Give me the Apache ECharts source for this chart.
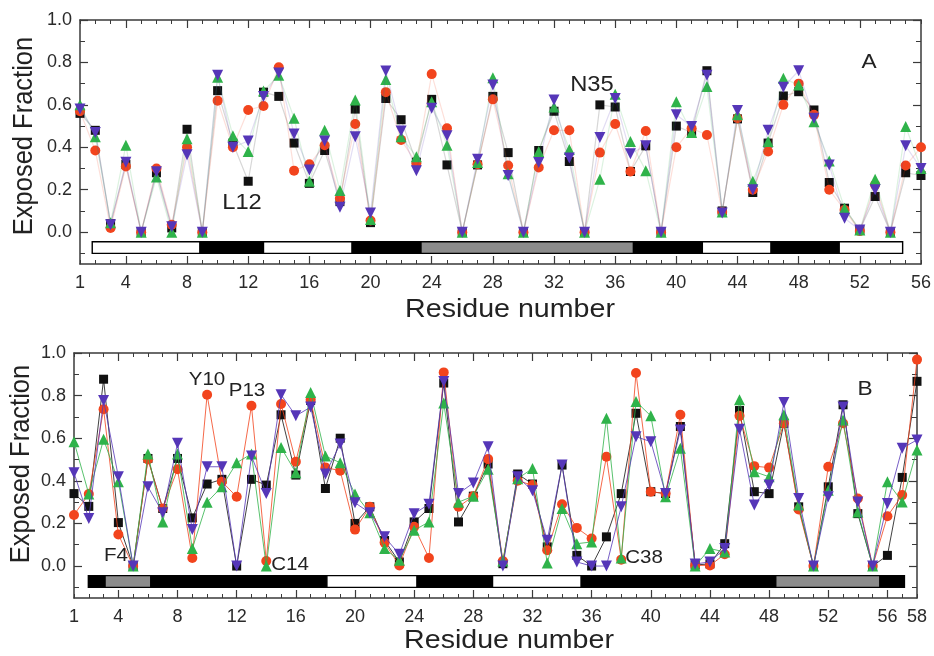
<!DOCTYPE html>
<html>
<head>
<meta charset="utf-8">
<script src="https://cdn.jsdelivr.net/npm/echarts@6/dist/echarts.min.js"></script>
<style>
  html, body { margin: 0; padding: 0; background: #fff; }
  #chart { width: 934px; height: 656px; }
</style>
</head>
<body>
<div id="chart"></div>
<script>
// panel A, residues 1..56
const blackA = [0.56, 0.48, 0.04, 0.32, 0, 0.28, 0.02, 0.485, 0, 0.667, 0.42, 0.24, 0.66, 0.64, 0.42, 0.23, 0.385, 0.144, 0.58, 0.045,
  0.63, 0.53, 0.33, 0.626, 0.317, 0, 0.317, 0.64, 0.375, 0, 0.385, 0.57, 0.333, 0, 0.60, 0.59, 0.286, 0.407, 0, 0.50,
  0.47, 0.761, 0.10, 0.534, 0.187, 0.42, 0.642, 0.662, 0.576, 0.234, 0.113, 0.01, 0.168, 0, 0.28, 0.267];
const redA = [0.57, 0.385, 0.02, 0.31, 0, 0.30, 0.035, 0.40, 0, 0.62, 0.40, 0.576, 0.595, 0.777, 0.29, 0.32, 0.41, 0.16, 0.51, 0.055,
  0.66, 0.435, 0.325, 0.745, 0.49, 0, 0.32, 0.626, 0.314, 0, 0.305, 0.48, 0.48, 0, 0.375, 0.51, 0.286, 0.477, 0, 0.40,
  0.49, 0.458, 0.095, 0.537, 0.20, 0.38, 0.60, 0.70, 0.553, 0.20, 0.105, 0.005, 0.223, 0, 0.314, 0.40];
const greenA = [0.60, 0.45, 0.045, 0.41, 0, 0.26, 0.0, 0.44, 0, 0.73, 0.454, 0.38, 0.665, 0.74, 0.537, 0.24, 0.48, 0.196, 0.623, 0.06,
  0.72, 0.45, 0.356, 0.615, 0.41, 0, 0.328, 0.728, 0.275, 0, 0.38, 0.59, 0.39, 0, 0.25, 0.65, 0.427, 0.29, 0, 0.615,
  0.47, 0.686, 0.095, 0.553, 0.24, 0.427, 0.725, 0.694, 0.52, 0.336, 0.113, 0.01, 0.25, 0, 0.498, 0.30];
const purpleA = [0.58, 0.47, 0.035, 0.33, 0, 0.285, 0.025, 0.365, 0, 0.74, 0.40, 0.43, 0.64, 0.75, 0.463, 0.293, 0.43, 0.118, 0.45, 0.09,
  0.76, 0.477, 0.29, 0.584, 0.454, 0, 0.344, 0.694, 0.267, 0, 0.328, 0.623, 0.35, 0, 0.446, 0.63, 0.37, 0.407, 0, 0.553,
  0.498, 0.74, 0.09, 0.573, 0.20, 0.48, 0.683, 0.761, 0.537, 0.317, 0.066, 0.01, 0.20, 0, 0.407, 0.30];

// panel B, residues 1..58
const blackB = [0.34, 0.28, 0.877, 0.204, 0, 0.505, 0.27, 0.505, 0.226, 0.385, 0.407, 0, 0.407, 0.38, 0.71, 0.427, 0.777, 0.364, 0.60, 0.20,
  0.278, 0.12, 0.019, 0.207, 0.27, 0.859, 0.207, 0.328, 0.479, 0.011, 0.432, 0.385, 0.09, 0.474, 0.05, 0, 0.137, 0.34, 0.717, 0.349,
  0.34, 0.655, 0.005, 0.01, 0.105, 0.73, 0.349, 0.34, 0.67, 0.278, 0, 0.372, 0.757, 0.246, 0, 0.05, 0.416, 0.867];
const redB = [0.24, 0.338, 0.736, 0.148, 0, 0.50, 0.27, 0.454, 0.038, 0.804, 0.396, 0.325, 0.752, 0.024, 0.761, 0.49, 0.78, 0.463, 0.447, 0.171,
  0.278, 0.11, 0.003, 0.184, 0.038, 0.909, 0.278, 0.328, 0.502, 0.024, 0.40, 0.38, 0.074, 0.29, 0.179, 0.129, 0.513, 0.03, 0.906, 0.349,
  0.34, 0.71, 0.003, 0.003, 0.055, 0.705, 0.469, 0.462, 0.67, 0.265, 0, 0.466, 0.67, 0.317, 0, 0.234, 0.333, 0.969];
const greenB = [0.584, 0.338, 0.595, 0.396, 0, 0.526, 0.207, 0.526, 0.082, 0.30, 0.372, 0.485, 0.526, 0.0, 0.557, 0.438, 0.815, 0.516, 0.485, 0.338,
  0.25, 0.082, 0.027, 0.168, 0.207, 0.765, 0.30, 0.328, 0.454, 0.024, 0.41, 0.458, 0.014, 0.27, 0.105, 0.113, 0.694, 0.038, 0.772, 0.705,
  0.325, 0.553, 0.0, 0.082, 0.066, 0.78, 0.443, 0.419, 0.71, 0.286, 0, 0.356, 0.686, 0.254, 0, 0.396, 0.301, 0.545];
const purpleB = [0.438, 0.223, 0.777, 0.419, 0, 0.372, 0.25, 0.576, 0.171, 0.466, 0.466, 0, 0.516, 0.34, 0.804, 0.705, 0.746, 0.432, 0.573, 0.297,
  0.25, 0.137, 0.055, 0.246, 0.29, 0.866, 0.34, 0.39, 0.56, 0, 0.419, 0.353, 0.121, 0.474, 0.019, 0, 0, 0.278, 0.607, 0.584,
  0.34, 0.639, 0.01, 0.019, 0.082, 0.642, 0.286, 0.38, 0.768, 0.317, 0, 0.325, 0.746, 0.301, 0, 0.294, 0.553, 0.592];

// secondary structure strips: [from, to, kind]
const structA = [[1.8, 8.85, 'coil'], [8.85, 13, 'strand'], [13, 18.8, 'coil'], [18.8, 23.3, 'strand'], [23.3, 37.2, 'helix'],
  [37.2, 41.7, 'strand'], [41.7, 46.2, 'coil'], [46.2, 50.65, 'strand'], [50.65, 54.8, 'coil']];
const structB = [[1.97, 3.1, 'strand'], [3.1, 6.2, 'helix'], [6.2, 18.1, 'strand'], [18.1, 24.2, 'coil'], [24.2, 29.3, 'strand'],
  [29.3, 35.3, 'coil'], [35.3, 48.45, 'strand'], [48.45, 55.5, 'helix'], [55.5, 57.15, 'strand']];

const xLabelsA = [1, 4, 8, 12, 16, 20, 24, 28, 32, 36, 40, 44, 48, 52, 56];
const xLabelsB = [1, 4, 8, 12, 16, 20, 24, 28, 32, 36, 40, 44, 48, 52, 56, 58];
const yLabels = [0, 0.2, 0.4, 0.6, 0.8, 1.0];
const yMinorTicks = [-0.1, 0.1, 0.3, 0.5, 0.7, 0.9];

const chart = echarts.init(document.getElementById('chart'));

const FONT = 'Liberation Sans, Arial, sans-serif';
const lineCol = '#3a3a3a';
const kindFill = { coil: '#ffffff', strand: '#000000', helix: '#8c8c8c' };

function xAxes(gi, xmax, labels) {
  const base = {
    gridIndex: gi, type: 'value', min: 1, max: xmax,
    splitLine: { show: false },
    axisLine: { onZero: false, lineStyle: { color: lineCol, width: 1.5 } }
  };
  const major = labels.filter(v => v !== 1 && v !== xmax);
  return [
    Object.assign({}, base, {
      position: 'bottom', interval: 1,
      axisTick: { inside: true, length: 4, lineStyle: { color: lineCol } },
      axisLabel: { customValues: labels, margin: 10, fontSize: 18, color: '#2a2a2a', fontFamily: FONT }
    }),
    Object.assign({}, base, {
      position: 'bottom', axisLine: { show: false, onZero: false },
      axisTick: { inside: true, length: 8, customValues: major, lineStyle: { color: lineCol, width: 1.2 } },
      axisLabel: { show: false }
    }),
    Object.assign({}, base, {
      position: 'top', interval: 1,
      axisTick: { inside: true, length: 4, lineStyle: { color: lineCol } },
      axisLabel: { show: false }
    }),
    Object.assign({}, base, {
      position: 'top', axisLine: { show: false, onZero: false },
      axisTick: { inside: true, length: 8, customValues: major, lineStyle: { color: lineCol, width: 1.2 } },
      axisLabel: { show: false }
    })
  ];
}

function yAxes(gi) {
  const base = {
    gridIndex: gi, type: 'value', min: -0.15, max: 1.0,
    splitLine: { show: false },
    axisLine: { onZero: false, lineStyle: { color: lineCol, width: 1.5 } }
  };
  return [
    Object.assign({}, base, {
      position: 'left',
      axisTick: { inside: true, length: 8, customValues: yLabels, lineStyle: { color: lineCol, width: 1.2 } },
      axisLabel: { customValues: yLabels, margin: 8, fontSize: 18, color: '#2a2a2a', fontFamily: FONT,
        formatter: v => Number(v).toFixed(1) }
    }),
    Object.assign({}, base, {
      position: 'left', axisLine: { show: false, onZero: false },
      axisTick: { inside: true, length: 5, customValues: yMinorTicks, lineStyle: { color: lineCol } },
      axisLabel: { show: false }
    }),
    Object.assign({}, base, {
      position: 'right',
      axisTick: { inside: true, length: 8, customValues: yLabels, lineStyle: { color: lineCol, width: 1.2 } },
      axisLabel: { show: false }
    }),
    Object.assign({}, base, {
      position: 'right', axisLine: { show: false, onZero: false },
      axisTick: { inside: true, length: 5, customValues: yMinorTicks, lineStyle: { color: lineCol } },
      axisLabel: { show: false }
    })
  ];
}

const seriesDefs = [
  { key: 'black', color: '#111111', symbol: 'rect', size: 9, rotate: 0 },
  { key: 'red', color: '#f2441d', symbol: 'circle', size: 10, rotate: 0 },
  { key: 'green', color: '#2fb34a', symbol: 'triangle', size: 11, rotate: 0 },
  { key: 'purple', color: '#5536b8', symbol: 'triangle', size: 11, rotate: 180 }
];

function pairs(vals) {
  return vals.map((v, i) => [i + 1, v]);
}

function lineSeries(panel, idx, valuesList, faint) {
  return seriesDefs.map((d, k) => ({
    type: 'line',
    name: d.key + panel,
    xAxisIndex: idx, yAxisIndex: idx,
    data: pairs(valuesList[k]),
    symbol: d.symbol, symbolSize: d.size, symbolRotate: d.rotate,
    itemStyle: { color: d.color, opacity: 1 },
    lineStyle: faint ? { color: d.color, width: 1.2, opacity: 0.17 } : { color: d.color, width: 1, opacity: 0.8 },
    showAllSymbol: true,
    animation: false,
    z: 3 + k
  }));
}

function strip(idx, segs) {
  return {
    type: 'custom',
    xAxisIndex: idx, yAxisIndex: idx,
    data: segs.map(s => [s[0], s[1], s[2]]),
    renderItem: function (params, api) {
      const p0 = api.coord([api.value(0), -0.045]);
      const p1 = api.coord([api.value(1), -0.10]);
      const kind = segs[params.dataIndex][2];
      return {
        type: 'rect',
        shape: { x: p0[0], y: p0[1], width: p1[0] - p0[0], height: p1[1] - p0[1] },
        style: { fill: kindFill[kind], stroke: '#000', lineWidth: 1.4 }
      };
    },
    animation: false,
    z: 2
  };
}

// text helper; sx/sy stretch the glyphs a little like the scanned figure
function txt(text, x, y, size, rot, sx, sy) {
  return {
    type: 'text', x: x, y: y, rotation: rot || 0,
    scaleX: sx || 1.08, scaleY: sy || 1,
    style: { text: text, font: size + 'px ' + FONT, fill: '#222', textAlign: 'center', textVerticalAlign: 'middle' },
    z: 10
  };
}

const option = {
  backgroundColor: '#fff',
  animation: false,
  grid: [
    { left: 80, right: 12, top: 20, height: 244 },
    { left: 74, right: 17, top: 353, height: 245 }
  ],
  xAxis: xAxes(0, 56, xLabelsA).concat(xAxes(1, 58, xLabelsB)),
  yAxis: yAxes(0).concat(yAxes(1)),
  series: [strip(0, structA), strip(4, structB)]
    .concat(lineSeries('A', 0, [blackA, redA, greenA, purpleA], true))
    .concat(lineSeries('B', 4, [blackB, redB, greenB, purpleB], false)),
  graphic: [
    txt('Exposed Fraction', 24, 136, 25, Math.PI / 2, 1.02, 1.1),
    txt('Exposed Fraction', 21, 464, 25, Math.PI / 2, 1.02, 1.1),
    txt('Residue number', 510, 310, 26, 0, 1.1),
    txt('Residue number', 509, 641, 26, 0, 1.1),
    txt('A', 869, 62, 21),
    txt('L12', 242, 203, 22),
    txt('N35', 592, 85, 22),
    txt('B', 865, 389, 21),
    txt('Y10', 207, 380, 19),
    txt('P13', 247, 391, 19),
    txt('F4', 116, 556, 19),
    txt('C14', 290, 565, 19),
    txt('C38', 644, 558, 19)
  ]
};

chart.setOption(option);
window.addEventListener('resize', function () {
  chart.resize();
});
</script>
</body>
</html>
